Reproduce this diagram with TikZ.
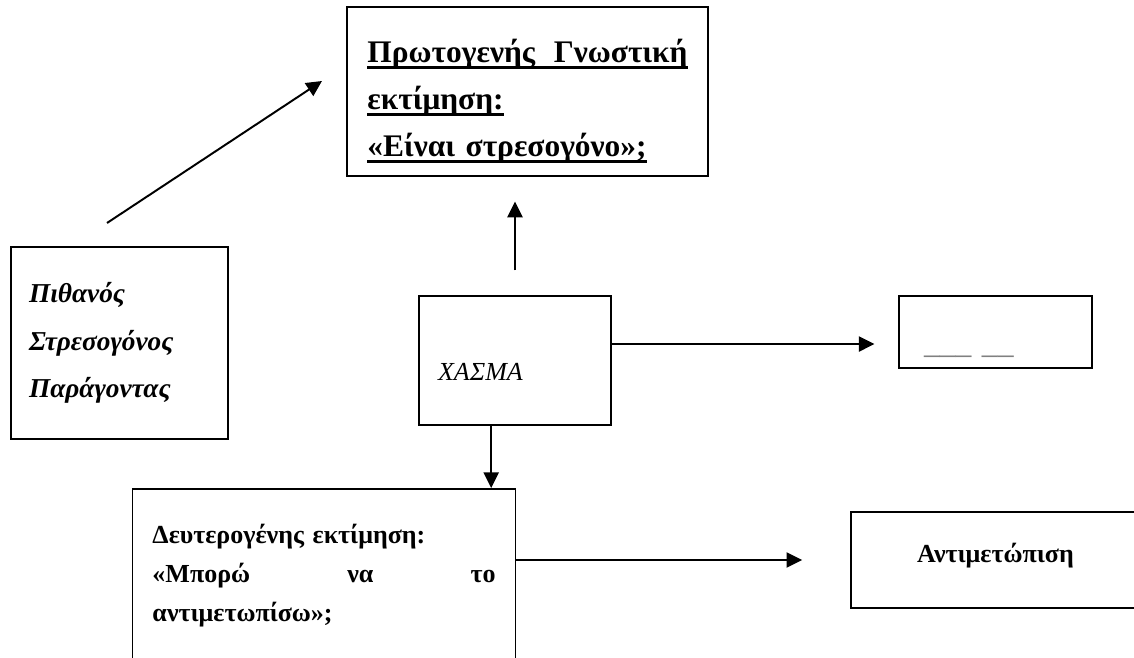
\documentclass[tikz,border=0pt]{standalone}
\usepackage{fontspec}
\setmainfont{Liberation Serif}
\usetikzlibrary{arrows.meta}
\newcommand{\undl}[1]{\leavevmode\setbox0=\hbox{#1}\rlap{\rule[-3pt]{\wd0}{1.2pt}}\box0}

\begin{document}
\fontsize{12pt}{14.4pt}\selectfont
\begin{tikzpicture}[x=0.4615pt, y=-0.4615pt, >={Triangle[length=7.2pt, width=7pt]},
  frame/.style 2 args={draw, rectangle, line width=0.7pt, minimum width=#1*0.4615pt, minimum height=#2*0.4615pt},
  link/.style={->, line width=0.9pt},
  lines/.style={execute at begin node={\setlength{\baselineskip}{#1}}}]
\useasboundingbox (0,0) rectangle (1134,658);
\clip (0,0) rectangle (1134,658);
\node[frame={361}{169}, text width=147.7pt, align=left, font={\fontsize{14.5pt}{17pt}\selectfont\bfseries}, lines=21.7pt] (prim) at (527.5,91.5)
  {\rule{0pt}{19.5pt}\undl{\makebox[\linewidth][s]{Πρωτογενής\hfill Γνωστική}}\\ \undl{εκτίμηση:}\\ \undl{«Είναι στρεσογόνο»;}};
\node[frame={217}{192}, text width=83.5pt, align=left, font={\fontsize{12.6pt}{15pt}\selectfont\bfseries\itshape}, lines=21.9pt] (factor) at (119.5,343)
  {Πιθανός\\ Στρεσογόνος\\ Παράγοντας};
\node[frame={192}{129}, text width=71pt, align=left, font=\itshape] (gap) at (515,360.5)
  {\raisebox{-5.3pt}[\height][\depth]{ΧΑΣΜΑ}};
\node[frame={193}{72}, text width=66pt, align=left, text=gray, font={\fontsize{14.6pt}{17pt}\selectfont}] (blank) at (995.5,332)
  {\raisebox{-10pt}[0pt][0pt]{\_\_\_ \_\_}};
\node[frame={289}{96}, font=\bfseries] (cope) at (995.5,560) {\raisebox{2pt}[\height][\depth]{Αντιμετώπιση}};
\node[draw, rectangle, line width=0.7pt, anchor=north, text width=158.3pt, inner xsep=9.2pt, inner ysep=16.5pt, align=left, font=\bfseries, lines=18pt] (second) at (324,488)
  {Δευτερογένης εκτίμηση:\\ \makebox[\linewidth][s]{«Μπορώ\hfill να\hfill το}\\ αντιμετωπίσω»;};
% arrows
\coordinate (tail) at (107,223);
\coordinate (head) at (322,81);
\draw[link] (tail) -- (head);
\draw[link, shorten <=11.5pt, shorten >=11.5pt] (gap.north) -- (gap.north |- prim.south);
\coordinate (gr) at ([yshift=7.6pt]gap.east);
\draw[link, shorten >=11pt] (gr) -- (gr -| blank.west);
\coordinate (gd) at ([xshift=-11pt]gap.south);
\draw[link] (gd) -- (gd |- second.north);
\draw[link, shorten >=22.2pt] (second.east |- cope.west) -- (cope.west);
\end{tikzpicture}
\end{document}
